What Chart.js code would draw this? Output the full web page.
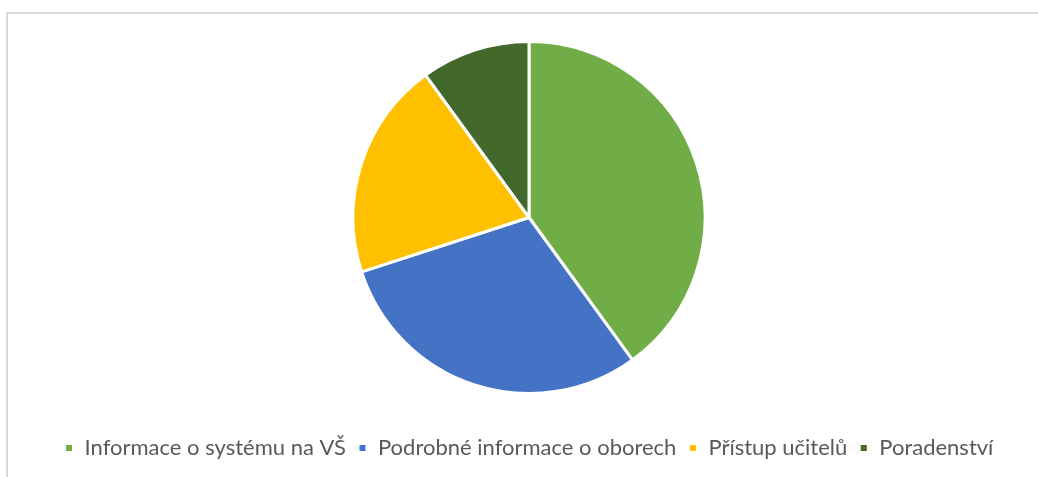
<!DOCTYPE html>
<html lang="cs">
<head>
<meta charset="UTF-8">
<title>Pie</title>
<script src="https://cdn.jsdelivr.net/npm/chart.js@4"></script>
<style>
  html, body { margin: 0; padding: 0; background: #fff; overflow: hidden; }
  #frame { position: absolute; left: 6px; top: 12px; width: 1100px; height: 520px; border: 2px solid #d9d9d9; }
  #wrap { position: absolute; left: 0; top: 0; width: 1038px; height: 477px; }
</style>
</head>
<body>
<div id="frame"></div>
<div id="wrap"><canvas id="pie"></canvas></div>
<script>
// chart data
const categories = ['Informace o systému na VŠ', 'Podrobné informace o oborech', 'Přístup učitelů', 'Poradenství'];
const values = [40, 30, 20, 10];
const colors = ['#70ad47', '#4472c4', '#ffc000', '#43682b'];

new Chart(document.getElementById('pie'), {
  type: 'pie',
  data: {
    labels: categories,
    datasets: [{
      data: values,
      backgroundColor: colors,
      borderColor: '#ffffff',
      borderWidth: 3,
      radius: 176
    }]
  },
  options: {
    responsive: true,
    maintainAspectRatio: false,
    animation: false,
    layout: { padding: { top: 10, left: 20, right: 0, bottom: 8 } },
    plugins: {
      tooltip: { enabled: false },
      legend: {
        position: 'bottom',
        labels: {
          boxWidth: 9,
          boxHeight: 9,
          padding: 12,
          color: '#595959',
          font: { family: 'Lato', size: 22 }
        }
      }
    }
  }
});
</script>
</body>
</html>
